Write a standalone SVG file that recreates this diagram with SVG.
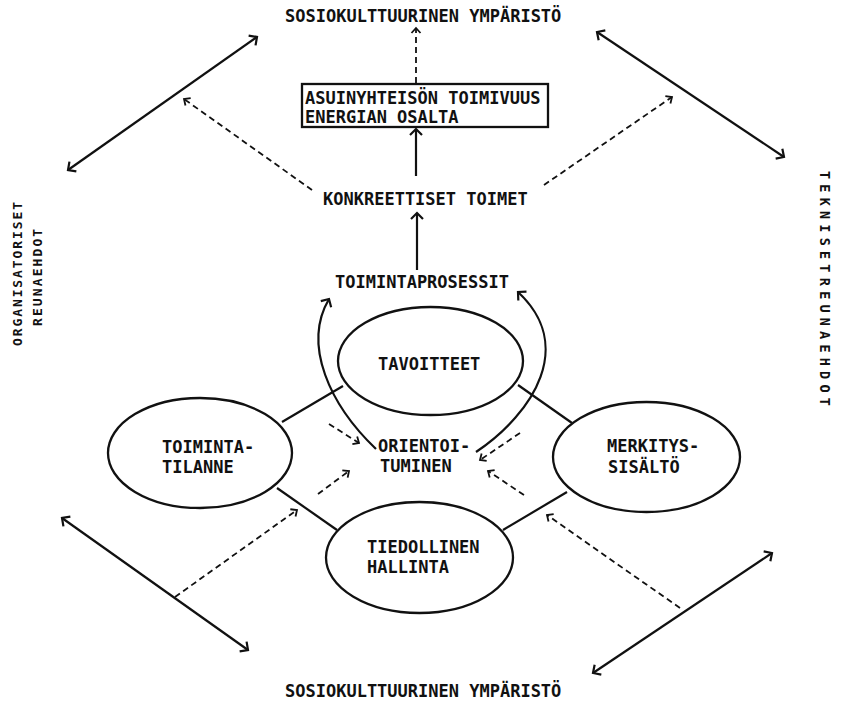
<svg xmlns="http://www.w3.org/2000/svg" width="848" height="701" viewBox="0 0 848 701">
<style>
text{font-family:"DejaVu Sans Mono","Liberation Mono",monospace;font-weight:bold;font-size:17px;fill:#111}
.vt{font-size:13.5px}
.vl{font-size:13px}
.node ellipse,.node rect{fill:none;stroke:#111;stroke-width:2.3}
.sl{fill:none;stroke:#111;stroke-width:2.2}
.dl{fill:none;stroke:#111;stroke-width:1.8;stroke-dasharray:6 4}
</style>
<defs>
<marker id="big" viewBox="-10 -8 12 16" refX="0" refY="0" markerWidth="12" markerHeight="16" markerUnits="userSpaceOnUse" orient="auto-start-reverse">
<path d="M-6,-6 L0,0 L-6,6" fill="none" stroke="#111" stroke-width="2.2"/>
</marker>
<marker id="sm" viewBox="-8 -6 10 12" refX="0" refY="0" markerWidth="10" markerHeight="12" markerUnits="userSpaceOnUse" orient="auto-start-reverse">
<path d="M-5,-4.5 L0,0 L-5,4.5" fill="none" stroke="#111" stroke-width="1.8"/>
</marker>
</defs>
<rect width="848" height="701" fill="#fff"/>

<g id="labels">
<text x="285" y="22">SOSIOKULTTUURINEN YMPÄRISTÖ</text>
<text x="285" y="697">SOSIOKULTTUURINEN YMPÄRISTÖ</text>
<text x="323" y="205">KONKREETTISET TOIMET</text>
<text x="335" y="288">TOIMINTAPROSESSIT</text>
<text class="vl" transform="translate(21.8,346) rotate(-90)" letter-spacing="1.9">ORGANISATORISET</text>
<text class="vl" transform="translate(41.8,326) rotate(-90)" letter-spacing="2.1">REUNAEHDOT</text>
<text class="vt" transform="translate(820,171) rotate(90)" letter-spacing="5.2">TEKNISET</text>
<text class="vt" transform="translate(820,277.8) rotate(90)" letter-spacing="5.2">REUNAEHDOT</text>
</g>

<g id="node-asuinyhteiso" class="node">
<rect x="302" y="84" width="246" height="43"/>
<text x="305" y="104">ASUINYHTEISÖN TOIMIVUUS</text>
<text x="305" y="123">ENERGIAN OSALTA</text>
</g>

<g id="node-tavoitteet" class="node">
<ellipse cx="430.5" cy="361" rx="92.5" ry="54"/>
<text x="378" y="370">TAVOITTEET</text>
</g>

<g id="node-toimintatilanne" class="node">
<ellipse cx="200" cy="453" rx="92" ry="55"/>
<text x="162" y="453">TOIMINTA-</text>
<text x="162" y="473">TILANNE</text>
</g>

<g id="node-merkityssisalto" class="node">
<ellipse cx="646.5" cy="457" rx="93.5" ry="55"/>
<text x="607" y="452">MERKITYS-</text>
<text x="608" y="473">SISÄLTÖ</text>
</g>

<g id="node-tiedollinen" class="node">
<ellipse cx="419.5" cy="557.5" rx="93.5" ry="55.5"/>
<text x="367" y="553">TIEDOLLINEN</text>
<text x="367" y="573">HALLINTA</text>
</g>

<g id="node-orientoituminen">
<text x="378" y="452">ORIENTOI-</text>
<text x="380" y="472">TUMINEN</text>
</g>

<g id="connectors">
<line class="sl" x1="282" y1="422" x2="343" y2="386"/>
<line class="sl" x1="518" y1="385" x2="572" y2="423"/>
<line class="sl" x1="277" y1="488" x2="337" y2="530"/>
<line class="sl" x1="567" y1="492" x2="503" y2="530"/>
<line class="sl" x1="417" y1="270" x2="417" y2="213" marker-end="url(#big)"/>
<line class="sl" x1="416" y1="176" x2="416" y2="129" marker-end="url(#big)"/>
<line class="dl" x1="416" y1="83" x2="416" y2="28" marker-end="url(#sm)"/>
<path class="sl" d="M376,449 C330,405 302,345 329,299" marker-end="url(#big)"/>
<path class="sl" d="M476,452 C535,412 575,345 518,292" marker-end="url(#big)"/>
<line class="dl" x1="312" y1="190" x2="184" y2="99" marker-end="url(#sm)"/>
<line class="dl" x1="544" y1="185" x2="672" y2="97" marker-end="url(#sm)"/>
<line class="sl" x1="68" y1="170" x2="257" y2="37" marker-start="url(#big)" marker-end="url(#big)"/>
<line class="sl" x1="597" y1="32" x2="784" y2="157" marker-start="url(#big)" marker-end="url(#big)"/>
<line class="sl" x1="62" y1="518" x2="248" y2="650" marker-start="url(#big)" marker-end="url(#big)"/>
<line class="sl" x1="593" y1="673" x2="772" y2="553" marker-start="url(#big)" marker-end="url(#big)"/>
<line class="dl" x1="175" y1="597" x2="297" y2="510" marker-end="url(#sm)"/>
<line class="dl" x1="680" y1="608" x2="547" y2="515" marker-end="url(#sm)"/>
<line class="dl" x1="329" y1="424" x2="359" y2="443" marker-end="url(#sm)"/>
<line class="dl" x1="318" y1="494" x2="349" y2="471" marker-end="url(#sm)"/>
<line class="dl" x1="520" y1="433" x2="480" y2="460" marker-end="url(#sm)"/>
<line class="dl" x1="524" y1="495" x2="488" y2="471" marker-end="url(#sm)"/>
</g>
</svg>
